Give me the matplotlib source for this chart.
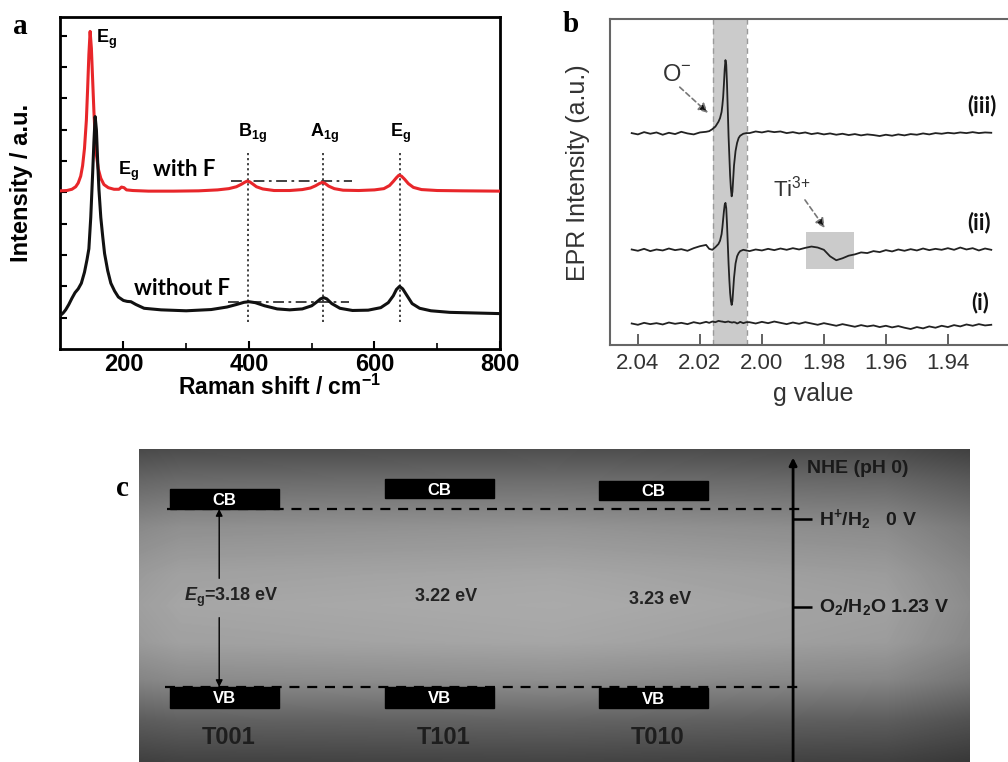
import numpy as np
import matplotlib
matplotlib.use('Agg')
import matplotlib.pyplot as plt
from matplotlib.patches import Rectangle

plt.rcParams['font.family'] = ['Liberation Sans', 'DejaVu Sans']
plt.rcParams['mathtext.fontset'] = 'custom'
plt.rcParams['mathtext.rm'] = 'Liberation Sans'
plt.rcParams['mathtext.it'] = 'Liberation Sans:italic:bold'
plt.rcParams['mathtext.bf'] = 'Liberation Sans:bold'

# ---------------- Panel a: Raman data ----------------
raman_with_x = [100, 110, 118, 124, 128, 132, 135, 138, 141, 143,
                145, 147, 149, 151, 153, 155, 157, 160, 164, 169,
                176, 185, 193, 197, 201, 205, 215, 240, 280, 320,
                350, 368, 380, 388, 393, 397, 401, 406, 412, 422,
                440, 465, 485, 498, 506, 512, 517, 521, 527, 536,
                550, 575, 600, 615, 624, 630, 635, 639, 643, 648,
                654, 662, 675, 700, 740, 800]
raman_with_y = [5.05, 5.06, 5.10, 5.18, 5.30, 5.52, 5.85, 6.40, 7.30, 8.30,
                9.40, 10.14, 9.60, 8.60, 7.60, 6.80, 6.20, 5.75, 5.45, 5.25,
                5.15, 5.10, 5.10, 5.17, 5.15, 5.08, 5.06, 5.04, 5.04, 5.05,
                5.08, 5.12, 5.18, 5.26, 5.32, 5.36, 5.34, 5.27, 5.18, 5.11,
                5.06, 5.06, 5.09, 5.14, 5.21, 5.28, 5.32, 5.29, 5.20, 5.12,
                5.07, 5.06, 5.08, 5.12, 5.22, 5.35, 5.47, 5.55, 5.52, 5.42,
                5.28, 5.16, 5.09, 5.06, 5.05, 5.04]
raman_without_x = [100, 104, 108, 113, 118, 123, 128, 133, 138, 142,
                   145, 148, 151, 153, 155, 157, 159, 161, 164, 167,
                   170, 175, 180, 186, 192, 200, 206, 212, 220, 233,
                   260, 300, 340, 365, 380, 392, 400, 410, 425, 445,
                   465, 485, 500, 508, 514, 519, 524, 532, 545, 565,
                   590, 610, 622, 630, 635, 640, 645, 652, 660, 672,
                   690, 720, 760, 800]
raman_without_y = [1.08, 1.15, 1.25, 1.42, 1.62, 1.80, 1.92, 2.10, 2.45, 2.85,
                   3.20, 4.20, 5.60, 6.60, 7.42, 7.00, 6.00, 5.10, 4.20, 3.60,
                   3.05, 2.50, 2.10, 1.85, 1.66, 1.55, 1.52, 1.51, 1.42, 1.30,
                   1.25, 1.22, 1.26, 1.34, 1.42, 1.49, 1.51, 1.48, 1.38, 1.28,
                   1.25, 1.28, 1.38, 1.50, 1.60, 1.64, 1.60, 1.45, 1.30, 1.23,
                   1.24, 1.32, 1.48, 1.70, 1.90, 2.00, 1.92, 1.70, 1.45, 1.30,
                   1.22, 1.17, 1.15, 1.13]
raman_modes = ['$\\mathbf{B_{1g}}$', '$\\mathbf{A_{1g}}$', '$\\mathbf{E_{g}}$']
raman_mode_pos = [399, 518, 641]

# ---------------- Panel b: EPR data ----------------
g_seg_a = [2.042, 2.040, 2.038, 2.036, 2.034, 2.032, 2.030, 2.028, 2.026,
           2.024, 2.022, 2.020, 2.018]
g_seg_b = [2.0170, 2.0160, 2.0150, 2.0140, 2.0135, 2.0130, 2.01275, 2.0125,
           2.01225, 2.0120, 2.01175, 2.0115, 2.01125, 2.0110, 2.01075, 2.0105,
           2.01025, 2.0100, 2.00975, 2.0095, 2.00925, 2.0090, 2.0085, 2.0080,
           2.0075, 2.0070, 2.0060, 2.0050]
g_seg_c = [2.004, 2.002, 2.000, 1.998, 1.996, 1.994, 1.992, 1.990, 1.988,
           1.986, 1.984, 1.982, 1.980, 1.978, 1.976, 1.974, 1.972, 1.970,
           1.968, 1.966, 1.964, 1.962, 1.960, 1.958, 1.956, 1.954, 1.952,
           1.950, 1.948, 1.946, 1.944, 1.942, 1.940, 1.938, 1.936, 1.934,
           1.932, 1.930, 1.928, 1.926]
epr_iii = ([6.50, 6.46, 6.53, 6.48, 6.52, 6.45, 6.51, 6.47, 6.54, 6.49, 6.46, 6.52, 6.54]
           + [6.56, 6.62, 6.70, 6.85, 6.96, 7.15, 7.35, 7.60, 8.00, 8.45,
              8.74, 8.60, 8.00, 7.20, 6.40, 5.80, 5.20, 4.80, 4.56, 4.70,
              5.10, 5.50, 5.95, 6.20, 6.35, 6.42, 6.48, 6.50]
           + [6.50, 6.55, 6.52, 6.56, 6.53, 6.55, 6.50, 6.53, 6.49, 6.52,
              6.47, 6.50, 6.46, 6.49, 6.45, 6.48, 6.44, 6.47, 6.43, 6.46,
              6.44, 6.41, 6.45, 6.42, 6.46, 6.43, 6.47, 6.45, 6.49, 6.46,
              6.50, 6.48, 6.51, 6.49, 6.52, 6.50, 6.53, 6.50, 6.52, 6.51])
epr_ii = ([2.93, 2.89, 2.95, 2.88, 2.93, 2.90, 2.96, 2.91, 2.94, 2.89, 2.97, 3.03, 3.07]
          + [2.95, 2.92, 3.00, 3.10, 3.20, 3.40, 3.60, 3.85, 4.10, 4.30,
             4.36, 4.20, 3.70, 3.10, 2.50, 2.00, 1.60, 1.35, 1.23, 1.35,
             1.70, 2.05, 2.50, 2.72, 2.82, 2.88, 2.92, 2.90]
          + [2.88, 2.93, 2.90, 2.95, 2.91, 2.96, 2.92, 2.97, 2.93, 2.98,
             3.02, 2.99, 2.92, 2.72, 2.60, 2.66, 2.74, 2.78, 2.84, 2.82,
             2.88, 2.85, 2.91, 2.87, 2.93, 2.89, 2.94, 2.90, 2.96, 2.91,
             2.95, 2.92, 2.97, 2.92, 2.99, 2.93, 2.97, 2.90, 2.96, 2.92])
epr_i = ([0.66, 0.62, 0.68, 0.64, 0.67, 0.63, 0.69, 0.65, 0.68, 0.64, 0.70, 0.66, 0.71]
         + [0.68, 0.72, 0.70, 0.74, 0.73, 0.72, 0.72, 0.71, 0.71, 0.70,
            0.70, 0.71, 0.71, 0.72, 0.72, 0.71, 0.70, 0.70, 0.69, 0.69,
            0.70, 0.70, 0.69, 0.66, 0.68, 0.71, 0.67, 0.70]
         + [0.70, 0.66, 0.71, 0.67, 0.72, 0.68, 0.64, 0.69, 0.65, 0.70,
            0.66, 0.62, 0.67, 0.63, 0.59, 0.64, 0.60, 0.56, 0.61, 0.57,
            0.60, 0.55, 0.59, 0.54, 0.58, 0.53, 0.49, 0.55, 0.51, 0.57,
            0.53, 0.59, 0.55, 0.61, 0.57, 0.63, 0.59, 0.64, 0.60, 0.62])
epr_labels = ['(iii)', '(ii)', '(i)']
epr_ticks = [2.04, 2.02, 2.00, 1.98, 1.96, 1.94]
o_band = [2.0158, 2.0048]
ti_band = [1.9858, 1.9703]

# ---------------- Panel c: band diagram data ----------------
samples = ['T001', 'T101', 'T010']
gap_labels = ['$\\mathit{E}_{\\mathbf{g}}$=3.18 eV', '3.22 eV', '3.23 eV']
cb_top = [-0.42, -0.56, -0.53]
cb_bottom = [-0.14, -0.29, -0.27]
vb_top = [2.35, 2.35, 2.36]
vb_bottom = [2.64, 2.64, 2.64]
gap_label_y = [1.09, 1.09, 1.12]
redox_pot = [0.0, 1.23]
redox_labels = ['$\\mathbf{H^{+}/H_{2}}$   0 V', '$\\mathbf{O_{2}/H_{2}O}$ 1.23 V']

W, H = 1008, 762
fig = plt.figure(figsize=(W / 100, H / 100), dpi=100)


def box(l, t, r, b):
    return [l / W, 1 - b / H, (r - l) / W, (b - t) / H]


# ======== Panel a ========
axA = fig.add_axes(box(60, 17, 500, 349))
axA.plot(raman_with_x, raman_with_y, color='#e8262a', lw=2.2, zorder=3)
axA.plot(raman_without_x, raman_without_y, color='#111111', lw=2.2, zorder=3)
axA.set_xlim(99, 800)
axA.set_ylim(0, 10.6)
axA.set_xticks([200, 400, 600, 800])
axA.set_xticks([300, 500, 700], minor=True)
axA.set_yticks(range(1, 11))
axA.tick_params(axis='x', which='major', direction='in', length=6, width=1.5,
                labelsize=17, pad=3)
axA.tick_params(axis='x', which='minor', direction='in', length=4, width=1.2)
axA.tick_params(axis='y', direction='in', length=5, width=1.5, labelleft=False)
for lab in axA.get_xticklabels():
    lab.set_fontweight('bold')
for s in axA.spines.values():
    s.set_linewidth(2)
axA.set_xlabel('Raman shift / cm$^{\\mathbf{-1}}$', fontsize=16.5, fontweight='bold')
axA.xaxis.set_label_coords(0.5, -0.078)
axA.set_ylabel('Intensity / a.u.', fontsize=17, fontweight='bold')
axA.yaxis.set_label_coords(-0.061, 0.5)

axA.vlines(raman_mode_pos, 0.87, 6.3, colors='#333333', linestyles=(0, (1.2, 1.6)), lw=1.3)
axA.hlines([5.37], 372, 564, colors='#333333', linestyles=(0, (6, 2.5, 1.5, 2.5)), lw=1.3)
axA.hlines([1.50], 367, 559, colors='#333333', linestyles=(0, (6, 2.5, 1.5, 2.5)), lw=1.3)
for name, x in zip(raman_modes, [383, 497, 625]):
    axA.text(x, 6.78, name, fontsize=13, ha='left', va='baseline')
axA.text(156, 9.78, '$\\mathbf{E_{g}}$', fontsize=13, ha='left', va='baseline')
axA.text(191, 5.56, '$\\mathbf{E_{g}}$', fontsize=13, ha='left', va='baseline')
axA.text(247, 5.53, 'with F', fontsize=16, fontweight='bold', family='Lato', ha='left', va='baseline')
axA.text(217, 1.73, 'without F', fontsize=16, fontweight='bold', family='Lato', ha='left', va='baseline')

# ======== Panel b ========
g_all = g_seg_a + g_seg_b + g_seg_c
axB = fig.add_axes(box(610, 19, 1008, 345))
axB.set_xlim(2.049, 1.9206)
axB.set_ylim(0, 10)
axB.axvspan(o_band[0], o_band[1], color='#cbcbcb', zorder=0, lw=0)
for gx in o_band:
    axB.axvline(gx, color='#9a9a9a', ls=(0, (4, 3)), lw=1.0, zorder=1)
axB.add_patch(Rectangle((ti_band[1], 2.33), ti_band[0] - ti_band[1], 1.14,
                        color='#cbcbcb', zorder=0, lw=0))
for yv in [epr_iii, epr_ii, epr_i]:
    axB.plot(g_all, yv, color='#222222', lw=1.3, zorder=3)
axB.set_xticks(epr_ticks)
axB.set_xticklabels([f'{t:.2f}' for t in epr_ticks])
axB.set_yticks([])
axB.tick_params(axis='x', direction='in', length=8, width=1.3, colors='#555555',
                labelcolor='#333333', labelsize=16, pad=6)
for side in ['left', 'top', 'bottom']:
    axB.spines[side].set_color('#666666')
    axB.spines[side].set_linewidth(1.5)
axB.spines['right'].set_visible(False)
axB.set_xlabel('g value', fontsize=18, color='#333333')
axB.xaxis.set_label_coords(0.51, -0.112)
axB.set_ylabel('EPR Intensity (a.u.)', fontsize=18, color='#333333')
axB.yaxis.set_label_coords(-0.05, 0.528)
for lab, gx, yv in zip(epr_labels, [1.9339, 1.9336, 1.9323], [7.36, 3.77, 1.29]):
    axB.text(gx, yv, lab, fontsize=16, fontweight='bold', family='Lato', ha='left', va='center',
             color='#111111')
axB.text(2.0323, 8.28, 'O$^{-}$', fontsize=17, color='#333333', ha='left', va='center')
axB.text(1.9965, 4.79, 'Ti$^{3{+}}$', fontsize=16, color='#333333', ha='left', va='center')
axB.annotate('', xy=(2.0174, 7.12), xytext=(2.0265, 7.91),
             arrowprops=dict(arrowstyle='-|>', ls=(0, (3, 2)), color='#888888', lw=1.2,
                             mutation_scale=14, shrinkA=0, shrinkB=0, fc='#111111', ec='#777777'))
axB.annotate('', xy=(1.9797, 3.59), xytext=(1.9861, 4.45),
             arrowprops=dict(arrowstyle='-|>', ls=(0, (3, 2)), color='#888888', lw=1.2,
                             mutation_scale=14, shrinkA=0, shrinkB=0, fc='#111111', ec='#777777'))

# ======== Panel c ========
axC = fig.add_axes(box(139, 449, 970, 762))
xl, xr, yt, yb = -0.40, 3.475, -0.98, 3.40
axC.set_xlim(xl, xr)
axC.set_ylim(yb, yt)
axC.axis('off')
ny, nx = 313, 831
ty = np.linspace(0, 1, ny)
vert = np.interp(ty, [0, 0.1, 0.25, 0.4, 0.5, 0.62, 0.74, 0.87, 1.0],
                 [0.31, 0.43, 0.58, 0.65, 0.67, 0.65, 0.56, 0.39, 0.27])
tx = np.linspace(0, 1, nx)
horiz = np.interp(tx, [0, 0.05, 0.5, 0.9, 1.0], [0.93, 0.97, 1.0, 0.94, 0.82])
grad = vert[:, None] * horiz[None, :]
axC.imshow(grad, cmap='gray', vmin=0, vmax=1, extent=(xl, xr, yb, yt),
           aspect='auto', origin='upper', zorder=0, interpolation='bilinear')

half = 0.254
for i, name in enumerate(samples):
    axC.add_patch(Rectangle((i - half, cb_top[i]), 2 * half, cb_bottom[i] - cb_top[i],
                            color='black', zorder=2))
    axC.add_patch(Rectangle((i - half, vb_top[i]), 2 * half, vb_bottom[i] - vb_top[i],
                            color='black', zorder=2))
    axC.text(i, (cb_top[i] + cb_bottom[i]) / 2 + 0.02, 'CB', color='white', fontsize=12,
             fontweight='bold', ha='center', va='center', zorder=3)
    axC.text(i, (vb_top[i] + vb_bottom[i]) / 2 + 0.02, 'VB', color='white', fontsize=12,
             fontweight='bold', ha='center', va='center', zorder=3)
    axC.text(i + 0.02, 3.06, name, fontsize=17, fontweight='bold', color='#1e1e1e',
             ha='center', va='center', zorder=3)
    axC.text(i + 0.03, gap_label_y[i], gap_labels[i], fontsize=13,
             fontweight='bold', color='#222222', ha='center', va='center', zorder=3)

dash = (0, (4.5, 3.5))
axC.hlines(cb_bottom[0], -0.268, 2.69, colors='black', linestyles=dash, lw=1.6, zorder=2)
axC.hlines(vb_top[0], -0.277, 2.68, colors='black', linestyles=dash, lw=1.6, zorder=2)

ax_x = -0.026
axC.annotate('', xy=(ax_x, cb_bottom[0]), xytext=(ax_x, 0.83),
             arrowprops=dict(arrowstyle='-|>', color='black', lw=1.0, mutation_scale=10,
                             shrinkA=0, shrinkB=0))
axC.annotate('', xy=(ax_x, vb_top[0]), xytext=(ax_x, 1.38),
             arrowprops=dict(arrowstyle='-|>', color='black', lw=1.0, mutation_scale=10,
                             shrinkA=0, shrinkB=0))

nhe_x = 2.65
axC.annotate('', xy=(nhe_x, -0.86), xytext=(nhe_x, yb),
             arrowprops=dict(arrowstyle='-|>', color='black', lw=2.0, mutation_scale=11,
                             shrinkA=0, shrinkB=0), zorder=3)
axC.text(2.716, -0.71, 'NHE (pH 0)', fontsize=14, fontweight='bold', color='#1a1a1a',
         ha='left', va='center')
axC.hlines(redox_pot, nhe_x, 2.739, colors='black', lw=1.8, zorder=3)
for pot, lab in zip(redox_pot, redox_labels):
    axC.text(2.772, pot, lab, fontsize=14, fontweight='bold', color='#1a1a1a',
             ha='left', va='center')

# panel letters
for lab, (px, py) in zip(['a', 'b', 'c'], [(20, 27), (571, 24), (122, 488)]):
    fig.text(px / W, 1 - py / H, lab, family='Liberation Serif', fontweight='bold',
             fontsize=21, ha='center', va='center')

fig.savefig('out.png', dpi=100)
